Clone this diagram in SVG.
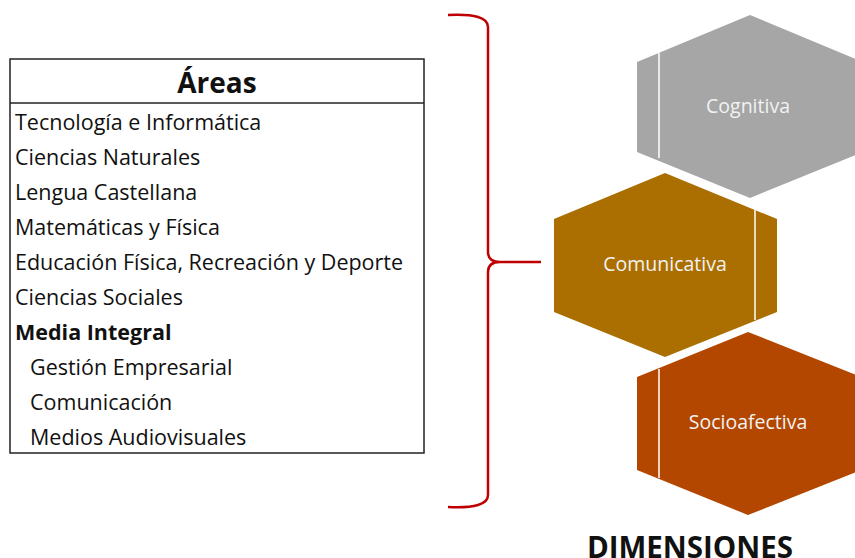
<svg xmlns="http://www.w3.org/2000/svg" width="855" height="558" viewBox="0 0 855 558">
<style>
.t{font-family:"Open Sans","Liberation Sans",sans-serif;font-size:21.5px;fill:#111}
.b{font-weight:bold}
.hd{font-family:"Open Sans","Liberation Sans",sans-serif;font-size:28px;font-weight:bold;fill:#111;text-anchor:middle}
.h{font-family:"Open Sans","Liberation Sans",sans-serif;font-size:19.5px;fill:#F2F2F2;text-anchor:middle}
.sep{stroke:#FFFFFF;stroke-width:1.5;fill:none}
</style>
<rect width="855" height="558" fill="#FFFFFF"/>
<g id="areas">
<rect x="10" y="59" width="414" height="394" fill="#FFFFFF" stroke="#222" stroke-width="1.5"/>
<line x1="10" y1="103" x2="424" y2="103" stroke="#222" stroke-width="1.5"/>
<text x="217" y="93" class="hd">Áreas</text>
<text x="15" y="130" class="t">Tecnología e Informática</text>
<text x="15" y="165" class="t">Ciencias Naturales</text>
<text x="15" y="200" class="t">Lengua Castellana</text>
<text x="15" y="235" class="t">Matemáticas y Física</text>
<text x="15" y="270" class="t">Educación Física, Recreación y Deporte</text>
<text x="15" y="305" class="t">Ciencias Sociales</text>
<text x="15" y="340" class="t b">Media Integral</text>
<text x="30" y="375" class="t">Gestión Empresarial</text>
<text x="30" y="410" class="t">Comunicación</text>
<text x="30" y="445" class="t">Medios Audiovisuales</text>
</g>
<g id="connectors">
<path d="M448,15 Q488,13 488,27 L488,252 Q488,262 500,262 L541,262 M500,262 Q488,262 488,272 L488,495 Q488,509 448,507" fill="none" stroke="#C00000" stroke-width="2.5"/>
</g>
<g id="cognitiva">
<polygon points="750,15 863,62 863,152 750,198 637,152 637,62" fill="#A6A6A6"/>
<line x1="659" y1="53" x2="659" y2="158" class="sep"/>
<text x="748" y="113" class="h">Cognitiva</text>
</g>
<g id="comunicativa">
<polygon points="665,173 777,219 777,312 665,357 554,312 554,219" fill="#AA6F00"/>
<line x1="755" y1="210" x2="755" y2="320" class="sep"/>
<text x="665" y="271" class="h">Comunicativa</text>
</g>
<g id="socioafectiva">
<polygon points="748,332 861,377 861,470 748,515 637,470 637,377" fill="#B34700"/>
<line x1="659" y1="369" x2="659" y2="478" class="sep"/>
<text x="748" y="429" class="h">Socioafectiva</text>
</g>
<text x="690" y="558" font-family="'Open Sans','Liberation Sans',sans-serif" font-weight="bold" font-size="29.5" fill="#111" text-anchor="middle">DIMENSIONES</text>
</svg>
